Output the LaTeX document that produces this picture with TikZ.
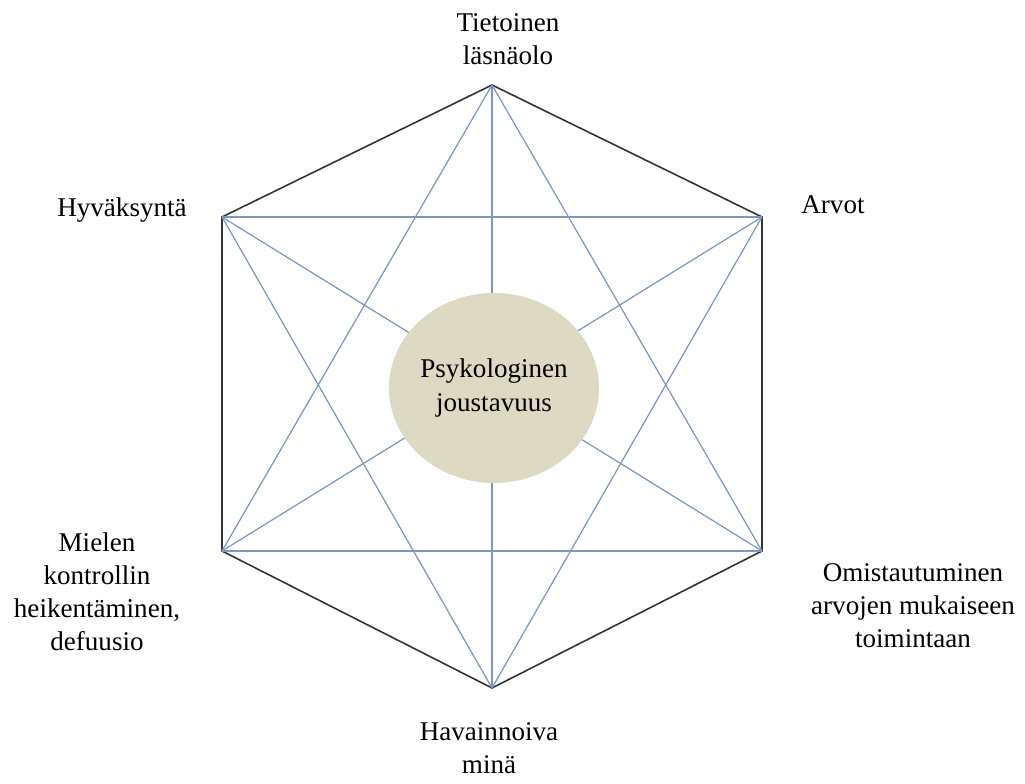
\documentclass[tikz,border=0pt]{standalone}
\usepackage{fontspec}
\setmainfont{Liberation Serif}
\usetikzlibrary{shapes.geometric}
\definecolor{hexblue}{RGB}{122,152,192}
\definecolor{coreback}{RGB}{221,217,195}

\begin{document}
\begin{tikzpicture}[font=\fontsize{15.4}{18.8}\selectfont,
  edge/.style={black!80, line width=0.9pt},
  diag/.style={hexblue, line width=0.7pt},
  lbl/.style={align=center, inner sep=0pt}]
  \useasboundingbox (0,0) rectangle (20.5,15.68);
  % corners of the hexagon
  \coordinate (ti) at (9.84,13.98);
  \coordinate (ar) at (15.24,11.34);
  \coordinate (om) at (15.24,4.66);
  \coordinate (ha) at (9.84,1.92);
  \coordinate (mi) at (4.44,4.66);
  \coordinate (hy) at (4.44,11.34);
  % outline
  \draw[edge] (ti) -- (ar) -- (om) -- (ha) -- (mi) -- (hy) -- cycle;
  % diagonals
  \draw[diag] (ti) -- (ha);
  \draw[diag] (ti) -- (om);
  \draw[diag] (ti) -- (mi);
  \draw[diag] (ar) -- (hy);
  \draw[diag] (ar) -- (mi);
  \draw[diag] (ar) -- (ha);
  \draw[diag] (om) -- (hy);
  \draw[diag] (om) -- (mi);
  \draw[diag] (hy) -- (ha);
  % centre
  \node[ellipse, fill=coreback, minimum width=4.2cm, minimum height=3.8cm, inner sep=0pt] (pj) at (9.88,7.92) {};
  \node[lbl] (pjtext) at (pj.center) {Psykologinen\\joustavuus};
  % labels
  \node[lbl] (tilbl) at (10.16,14.9) {Tietoinen\\läsnäolo};
  \node[lbl] (arlbl) at (16.66,11.58) {Arvot};
  \node[lbl] (omlbl) at (18.26,3.56) {Omistautuminen\\arvojen mukaiseen\\toimintaan};
  \node[lbl] (halbl) at (9.78,0.72) {Havainnoiva\\minä};
  \node[lbl] (milbl) at (1.94,3.84) {Mielen\\kontrollin\\heikentäminen,\\defuusio};
  \node[lbl] (hylbl) at (2.44,11.48) {Hyväksyntä};
\end{tikzpicture}
\end{document}
